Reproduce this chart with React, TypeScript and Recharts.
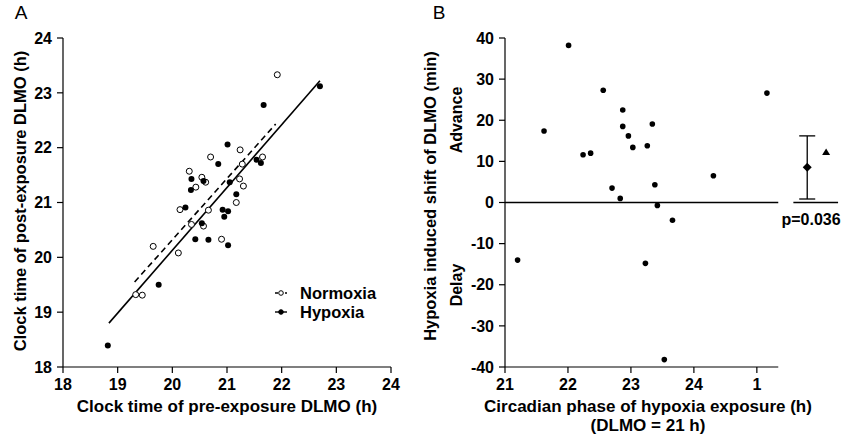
import React from "react";
import {
  ScatterChart,
  Scatter,
  XAxis,
  YAxis,
  ReferenceLine,
  ErrorBar,
} from "recharts";

const FONT = "Arial, 'Liberation Sans', sans-serif";

/* ---------- panel A data (pre vs post DLMO, h) ---------- */
const normoxia = [
  { x: 21.92, y: 23.33 }, { x: 21.24, y: 21.96 }, { x: 20.7, y: 21.83 },
  { x: 21.65, y: 21.83 }, { x: 21.28, y: 21.7 }, { x: 20.31, y: 21.57 },
  { x: 20.54, y: 21.46 }, { x: 20.61, y: 21.37 }, { x: 21.23, y: 21.43 },
  { x: 21.3, y: 21.3 }, { x: 20.43, y: 21.28 }, { x: 21.17, y: 21.0 },
  { x: 20.14, y: 20.87 }, { x: 20.66, y: 20.86 }, { x: 20.35, y: 20.6 },
  { x: 20.57, y: 20.57 }, { x: 20.9, y: 20.33 }, { x: 19.65, y: 20.2 },
  { x: 20.11, y: 20.08 }, { x: 19.33, y: 19.32 }, { x: 19.45, y: 19.31 },
];

const hypoxia = [
  { x: 22.7, y: 23.12 }, { x: 21.67, y: 22.78 }, { x: 21.01, y: 22.06 },
  { x: 20.84, y: 21.7 }, { x: 21.54, y: 21.78 }, { x: 21.62, y: 21.72 },
  { x: 20.35, y: 21.43 }, { x: 20.57, y: 21.39 }, { x: 20.34, y: 21.23 },
  { x: 21.05, y: 21.37 }, { x: 21.17, y: 21.15 }, { x: 20.24, y: 20.91 },
  { x: 20.92, y: 20.87 }, { x: 21.02, y: 20.84 }, { x: 20.95, y: 20.74 },
  { x: 20.54, y: 20.62 }, { x: 20.42, y: 20.33 }, { x: 20.66, y: 20.32 },
  { x: 21.02, y: 20.22 }, { x: 19.75, y: 19.5 }, { x: 18.82, y: 18.39 },
];

const fitNormoxia = [{ x: 19.31, y: 19.55 }, { x: 21.89, y: 22.43 }];
const fitHypoxia = [{ x: 18.84, y: 18.8 }, { x: 22.7, y: 23.22 }];

const ticksA = [18, 19, 20, 21, 22, 23, 24];

/* ---------- panel B data (phase h, shift min) ---------- */
const shifts = [
  { x: 22.01, y: 38.2 }, { x: 21.62, y: 17.4 }, { x: 21.2, y: -14.0 },
  { x: 22.24, y: 11.6 }, { x: 22.36, y: 12.0 }, { x: 22.56, y: 27.3 },
  { x: 22.7, y: 3.5 }, { x: 22.83, y: 1.0 }, { x: 22.87, y: 22.5 },
  { x: 22.87, y: 18.5 }, { x: 22.96, y: 16.2 }, { x: 23.03, y: 13.4 },
  { x: 23.26, y: 13.8 }, { x: 23.34, y: 19.1 }, { x: 23.23, y: -14.8 },
  { x: 23.38, y: 4.3 }, { x: 23.42, y: -0.7 }, { x: 23.66, y: -4.3 },
  { x: 23.53, y: -38.2 }, { x: 24.31, y: 6.5 }, { x: 25.16, y: 26.6 },
];

const meanShift = [{ x: 25.8, y: 8.6, err: [7.75, 7.6] }];
const triangleMark = [{ x: 26.1, y: 12.3 }];

const ticksBx = [21, 22, 23, 24, 25];
const ticksBy = [-40, -30, -20, -10, 0, 10, 20, 30, 40];
const axisEndB = 25.34;
const summaryBase = [25.58, 26.29];

const tickStyle = { fill: "#000", fontSize: 16, fontWeight: "bold", fontFamily: FONT };

const OpenDot = (p: any) => (
  <circle cx={p.cx} cy={p.cy} r={3} fill="#fff" stroke="#000" strokeWidth={1} />
);
const FillDot = (p: any) => <circle cx={p.cx} cy={p.cy} r={3} fill="#000" />;
const SmallDot = (p: any) => <circle cx={p.cx} cy={p.cy} r={2.8} fill="#000" />;
const Diamond = (p: any) => (
  <path
    d={`M${p.cx},${p.cy - 4.5}L${p.cx + 4.5},${p.cy}L${p.cx},${p.cy + 4.5}L${p.cx - 4.5},${p.cy}Z`}
    fill="#000"
  />
);
const Triangle = (p: any) => (
  <path d={`M${p.cx},${p.cy - 3.5}L${p.cx + 4},${p.cy + 3}L${p.cx - 4},${p.cy + 3}Z`} fill="#000" />
);

function Txt({
  x,
  y,
  size = 16,
  bold = true,
  rotate = false,
  children,
}: {
  x: number;
  y: number;
  size?: number;
  bold?: boolean;
  rotate?: boolean;
  children: React.ReactNode;
}) {
  return (
    <div
      style={{
        position: "absolute",
        left: x,
        top: y,
        transform: `translate(-50%, -50%)${rotate ? " rotate(-90deg)" : ""}`,
        whiteSpace: "nowrap",
        fontFamily: FONT,
        fontSize: size,
        fontWeight: bold ? "bold" : "normal",
        lineHeight: 1,
        color: "#000",
      }}
    >
      {children}
    </div>
  );
}

function PanelA() {
  return (
    <ScatterChart
      width={420}
      height={435}
      margin={{ top: 38, right: 29, bottom: 38, left: 3 }}
    >
      <XAxis
        type="number"
        dataKey="x"
        domain={[18, 24]}
        ticks={ticksA}
        height={30}
        tick={tickStyle}
        tickSize={6}
        tickMargin={6}
        stroke="#000"
        strokeWidth={1.2}
        allowDataOverflow
      />
      <YAxis
        type="number"
        dataKey="y"
        domain={[18, 24]}
        ticks={ticksA}
        width={60}
        tick={tickStyle}
        tickSize={6}
        tickMargin={5}
        stroke="#000"
        strokeWidth={1.2}
        allowDataOverflow
      />
      <ReferenceLine segment={fitNormoxia} stroke="#000" strokeWidth={1.6} strokeDasharray="6 4" />
      <ReferenceLine segment={fitHypoxia} stroke="#000" strokeWidth={1.6} />
      <Scatter data={normoxia} shape={OpenDot} isAnimationActive={false} />
      <Scatter data={hypoxia} shape={FillDot} isAnimationActive={false} />
    </ScatterChart>
  );
}

function PanelB() {
  return (
    <ScatterChart
      width={426}
      height={435}
      margin={{ top: 38, right: 1, bottom: 38, left: 25 }}
    >
      <XAxis
        type="number"
        dataKey="x"
        domain={[21, 26.4]}
        ticks={ticksBx}
        tickFormatter={(v: number) => String(v > 24 ? v - 24 : v)}
        height={30}
        tick={tickStyle}
        tickSize={6}
        tickMargin={6}
        axisLine={false}
        stroke="#000"
        strokeWidth={1.2}
        allowDataOverflow
      />
      <YAxis
        type="number"
        dataKey="y"
        domain={[-40, 40]}
        ticks={ticksBy}
        width={60}
        tick={tickStyle}
        tickSize={6}
        tickMargin={5}
        stroke="#000"
        strokeWidth={1.2}
        allowDataOverflow
      />
      <ReferenceLine segment={[{ x: 21, y: -40 }, { x: axisEndB, y: -40 }]} stroke="#000" strokeWidth={1.2} />
      <ReferenceLine segment={[{ x: 21, y: 0 }, { x: axisEndB, y: 0 }]} stroke="#000" strokeWidth={1.3} />
      <ReferenceLine
        segment={[{ x: summaryBase[0], y: 0 }, { x: summaryBase[1], y: 0 }]}
        stroke="#000"
        strokeWidth={1.3}
      />
      <Scatter data={shifts} shape={SmallDot} isAnimationActive={false} />
      <Scatter data={meanShift} shape={Diamond} isAnimationActive={false}>
        <ErrorBar dataKey="err" direction="y" width={8} stroke="#000" strokeWidth={1.3} isAnimationActive={false} />
      </Scatter>
      <Scatter data={triangleMark} shape={Triangle} isAnimationActive={false} />
    </ScatterChart>
  );
}

function LegendA() {
  const row = (label: string, open: boolean, top: number) => (
    <div style={{ position: "absolute", left: 274, top: top - 9, display: "flex", alignItems: "center", height: 18 }}>
      <svg width={14} height={10} style={{ marginRight: 12 }}>
        <line x1={1} y1={5} x2={13} y2={5} stroke="#000" strokeWidth={1.4} strokeDasharray={open ? "3 2" : undefined} />
        <circle cx={7} cy={5} r={2.3} fill={open ? "#fff" : "#000"} stroke="#000" strokeWidth={1} />
      </svg>
      <span style={{ fontFamily: FONT, fontWeight: "bold", fontSize: 16.5, lineHeight: 1 }}>{label}</span>
    </div>
  );
  return (
    <>
      {row("Normoxia", true, 293)}
      {row("Hypoxia", false, 312)}
    </>
  );
}

export default function App() {
  return (
    <div
      style={{
        position: "absolute",
        left: 0,
        top: 0,
        width: 846,
        height: 435,
        background: "#fff",
        overflow: "hidden",
      }}
    >
      <div style={{ position: "absolute", left: 0, top: 0 }}>
        <PanelA />
      </div>
      <div style={{ position: "absolute", left: 420, top: 0 }}>
        <PanelB />
      </div>
      <Txt x={21} y={12} size={19} bold={false}>A</Txt>
      <Txt x={439} y={12} size={19} bold={false}>B</Txt>
      <Txt x={227} y={406} size={17}>Clock time of pre-exposure DLMO (h)</Txt>
      <Txt x={20} y={201} size={16.5} rotate>Clock time of post-exposure DLMO (h)</Txt>
      <LegendA />
      <Txt x={430} y={196} size={16.5} rotate>Hypoxia induced shift of DLMO (min)</Txt>
      <Txt x={457} y={120} rotate>Advance</Txt>
      <Txt x={457} y={285} rotate>Delay</Txt>
      <Txt x={648} y={405.5} size={17}>Circadian phase of hypoxia exposure (h)</Txt>
      <Txt x={648} y={424.5} size={17}>(DLMO = 21 h)</Txt>
      <Txt x={811} y={220}>p=0.036</Txt>
    </div>
  );
}
